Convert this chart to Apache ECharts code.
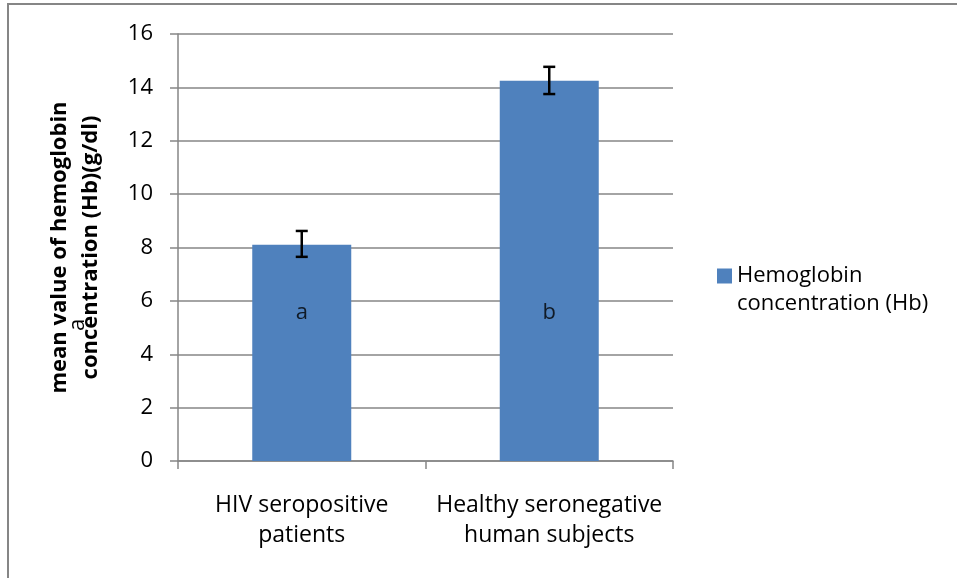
<!DOCTYPE html>
<html>
<head>
<meta charset="utf-8">
<script src="https://cdn.jsdelivr.net/npm/echarts@6/dist/echarts.min.js"></script>
<style>
    html, body { margin: 0; padding: 0; background: #fff; }
    #myChart { width: 957px; height: 578px; }
</style>
</head>
<body>
<div id="myChart"></div>
<script>
const categories = ['HIV seropositive\npatients', 'Healthy seronegative\nhuman subjects']
const hbMean = [8.1, 14.25]
const errLow = [7.65, 13.75]
const errHigh = [8.62, 14.77]
const letters = ['a', 'b']
const letterPos = [5.55, 5.55]
const seriesName = 'Hemoglobin\nconcentration (Hb)'

const barColor = '#4f81bd'
const gridColor = '#868686'
const fontName = 'Open Sans'

const myChart = echarts.init(document.getElementById('myChart'))

const option = {
    animation: false,
    backgroundColor: '#fff',
    textStyle: { fontFamily: fontName },
    grid: {
        left: 178,
        right: 284,
        top: 34,
        bottom: 117
    },
    legend: {
        left: 717,
        top: 234,
        padding: 0,
        itemWidth: 15,
        itemHeight: 15,
        itemGap: 5,
        icon: 'rect',
        data: [seriesName],
        // blank first line so the square lines up with the first text line
        formatter: function (name) { return '\n' + name },
        textStyle: {
            fontFamily: fontName,
            fontSize: 22,
            color: '#000',
            lineHeight: 28
        }
    },
    xAxis: {
        type: 'category',
        data: categories,
        axisLine: { lineStyle: { color: gridColor, width: 1.5 } },
        axisTick: { show: true, length: 8, lineStyle: { color: gridColor, width: 1.5 } },
        axisLabel: {
            color: '#000',
            fontSize: 23,
            lineHeight: 30,
            margin: 29,
            interval: 0
        }
    },
    yAxis: {
        type: 'value',
        min: 0,
        max: 16,
        interval: 2,
        name: 'mean value of hemoglobin\nconcentration (Hb)(g/dl)',
        nameLocation: 'middle',
        nameRotate: 90,
        nameGap: 72,
        nameTextStyle: {
            fontFamily: fontName,
            fontWeight: 'bold',
            fontSize: 22,
            lineHeight: 31,
            color: '#000'
        },
        axisLine: { show: true, lineStyle: { color: gridColor, width: 1.5 } },
        axisTick: { show: true, length: 8, lineStyle: { color: gridColor, width: 1.5 } },
        splitLine: { lineStyle: { color: gridColor, width: 1.5 } },
        axisLabel: {
            color: '#000',
            fontSize: 22,
            margin: 25
        }
    },
    graphic: [{
        type: 'rect',
        shape: { x: 8, y: 4, width: 1000, height: 700 },
        style: { fill: 'none', stroke: gridColor, lineWidth: 2 },
        silent: true
    }, {
        type: 'text',
        x: 78,
        y: 325,
        rotation: Math.PI / 2,
        style: {
            text: 'a',
            font: '22px ' + fontName,
            fill: '#000',
            align: 'center',
            verticalAlign: 'middle'
        }
    }],
    series: [{
        name: seriesName,
        type: 'bar',
        barWidth: '40%',
        itemStyle: { color: barColor },
        data: hbMean
    }, {
        type: 'custom',
        name: 'error',
        silent: true,
        renderItem: function (params, api) {
            const x = api.value(0)
            const lo = api.coord([x, api.value(1)])
            const hi = api.coord([x, api.value(2)])
            const half = 6
            const style = { stroke: '#000', lineWidth: 2.5 }
            return {
                type: 'group',
                children: [
                    { type: 'line', shape: { x1: lo[0], y1: lo[1], x2: hi[0], y2: hi[1] }, style: style },
                    { type: 'line', shape: { x1: lo[0] - half, y1: lo[1], x2: lo[0] + half, y2: lo[1] }, style: style },
                    { type: 'line', shape: { x1: hi[0] - half, y1: hi[1], x2: hi[0] + half, y2: hi[1] }, style: style }
                ]
            }
        },
        encode: { x: 0, y: [1, 2] },
        data: errLow.map(function (v, i) { return [i, v, errHigh[i]] }),
        z: 5
    }, {
        type: 'scatter',
        name: 'letters',
        symbolSize: 0,
        silent: true,
        label: {
            show: true,
            position: 'inside',
            fontSize: 22,
            color: '#000',
            formatter: function (p) { return letters[p.dataIndex] }
        },
        data: letterPos.map(function (v, i) { return [i, v] }),
        z: 6
    }]
}

myChart.setOption(option)
</script>
</body>
</html>
